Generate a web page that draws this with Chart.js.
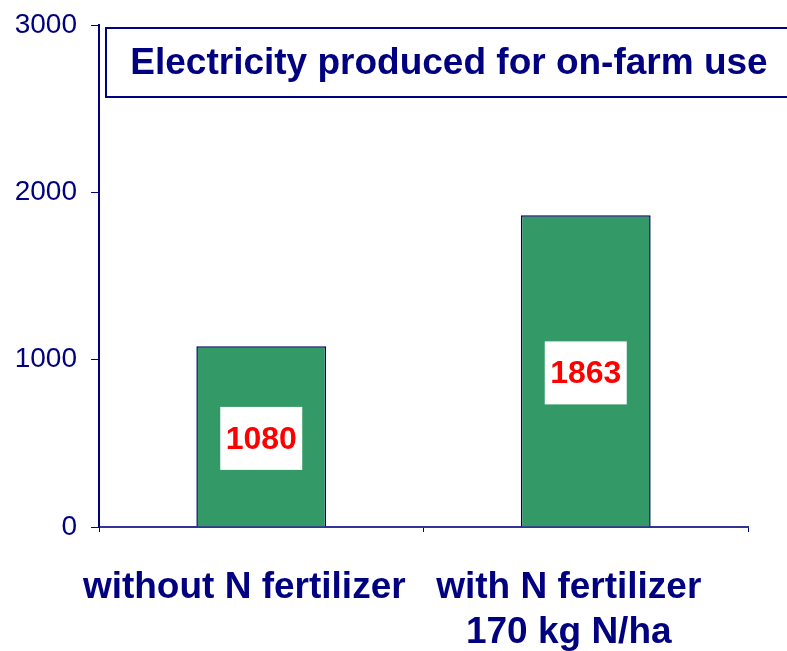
<!DOCTYPE html>
<html lang="en">
<head>
    <meta charset="UTF-8">
    <title>Electricity produced for on-farm use</title>
    <script src="https://cdn.jsdelivr.net/npm/chart.js"></script>
    <style>
        body { margin: 0; background: #fff; }
        #wrap { width: 787px; height: 651px; position: relative; }
    </style>
</head>
<body>
<div id="wrap"><canvas id="elecCanvas"></canvas></div>

<script>
    // chart data
    const categories = ['without N fertilizer', ['with N fertilizer', '170 kg N/ha']];
    const electricity = [1080, 1863];
    const yTicks = [0, 1000, 2000, 3000];
    const chartTitle = 'Electricity produced for on-farm use';

    const navy = '#000080';
    const fontFamily = '"Liberation Sans", Arial, sans-serif';

    // white box with red value in the middle of each bar
    let valueBoxPlugin = {
        id: 'valueBoxPlugin',
        afterDatasetsDraw: function(chart) {
            let ctx = chart.ctx;
            let meta = chart.getDatasetMeta(0);
            ctx.save();
            meta.data.forEach((bar, i) => {
                let cx = bar.x;
                let cy = (bar.y + bar.base) / 2 + 2.5;
                ctx.fillStyle = '#ffffff';
                ctx.fillRect(cx - 41, cy - 32, 82, 63);
                ctx.fillStyle = '#ff0000';
                ctx.font = 'bold 32px ' + fontFamily;
                ctx.textAlign = 'center';
                ctx.textBaseline = 'middle';
                ctx.fillText(String(electricity[i]), cx, cy + 1);
            });
            ctx.restore();
        }
    };

    // boxed title sitting inside the plot area
    let titleBoxPlugin = {
        id: 'titleBoxPlugin',
        afterDraw: function(chart) {
            let ctx = chart.ctx;
            let area = chart.chartArea;
            ctx.save();
            ctx.fillStyle = '#ffffff';
            ctx.fillRect(area.left + 7, 28, 800, 69);
            ctx.strokeStyle = navy;
            ctx.lineWidth = 2;
            ctx.strokeRect(area.left + 7, 28, 800, 69);
            ctx.fillStyle = navy;
            ctx.font = 'bold 37px ' + fontFamily;
            ctx.textAlign = 'center';
            ctx.textBaseline = 'middle';
            ctx.fillText(chartTitle, 449, 64);
            ctx.restore();
        }
    };

    let ctx = document.getElementById('elecCanvas').getContext('2d');
    let chart = new Chart(ctx, {
        type: 'bar',
        data: {
            labels: categories,
            datasets: [{
                data: electricity,
                backgroundColor: '#339966',
                borderColor: '#000066',
                borderWidth: 1.5,
                barPercentage: 0.4,
                categoryPercentage: 1.0
            }]
        },
        options: {
            responsive: true,
            maintainAspectRatio: false,
            animation: false,
            layout: { padding: { top: 25, right: 39, left: 0, bottom: 0 } },
            plugins: {
                legend: { display: false },
                tooltip: { enabled: false },
                title: { display: false }
            },
            scales: {
                x: {
                    grid: {
                        display: true,
                        drawOnChartArea: false,
                        drawTicks: true,
                        tickLength: 5,
                        color: navy,
                        offset: true
                    },
                    border: { display: true, color: '#333399', width: 2 },
                    ticks: {
                        color: navy,
                        font: { family: fontFamily, size: 37, weight: 'bold', lineHeight: 1.2 },
                        padding: 34,
                        labelOffset: -17,
                        maxRotation: 0,
                        autoSkip: false
                    },
                    afterFit: function(scale) { scale.height = 124; }
                },
                y: {
                    min: 0,
                    max: 3000,
                    afterBuildTicks: function(scale) {
                        scale.ticks = yTicks.map(v => ({ value: v }));
                    },
                    grid: {
                        display: true,
                        drawOnChartArea: false,
                        drawTicks: true,
                        tickLength: 8,
                        color: navy
                    },
                    border: { display: true, color: navy, width: 2 },
                    ticks: {
                        color: navy,
                        font: { family: fontFamily, size: 28 },
                        padding: 14,
                        callback: function(value) { return String(value); }
                    },
                    afterFit: function(scale) {
                        scale.width = 99;
                        scale.paddingTop = 0;
                        scale.paddingBottom = 0;
                    }
                }
            }
        },
        plugins: [valueBoxPlugin, titleBoxPlugin]
    });
</script>
</body>
</html>
